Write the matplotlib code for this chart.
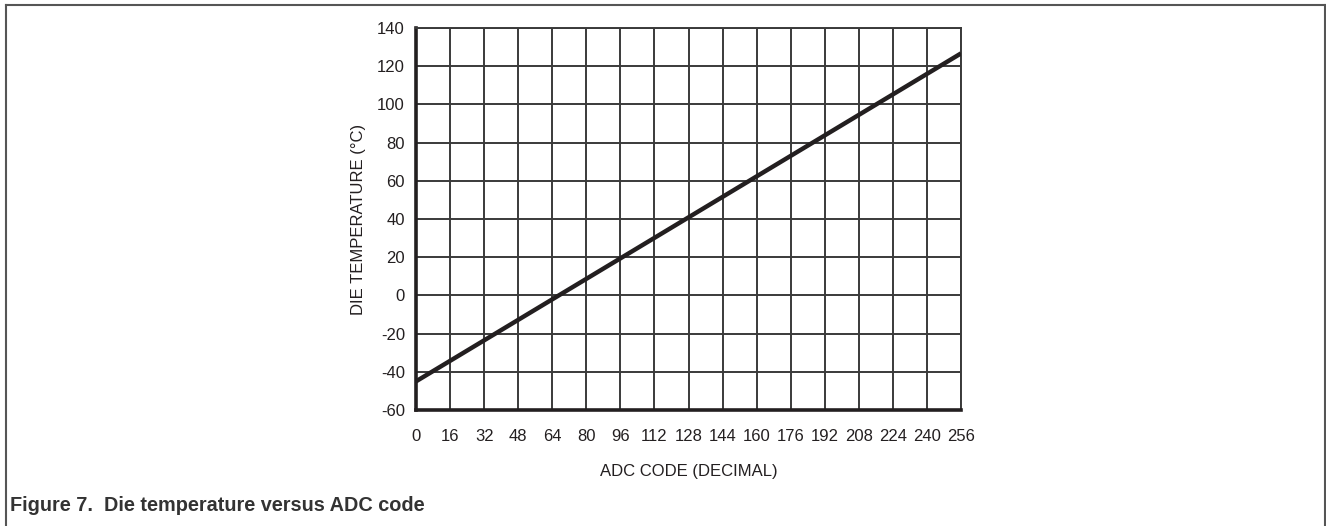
import matplotlib
matplotlib.use("Agg")
import matplotlib.pyplot as plt
from matplotlib.lines import Line2D

adc_code = [0, 256]
die_temp = [-45, 126.7]
x_ticks = list(range(0, 257, 16))
y_ticks = list(range(-60, 141, 20))

plt.rcParams['font.family'] = ['Liberation Sans', 'DejaVu Sans']

W, H = 1326, 526
fig = plt.figure(figsize=(W / 100, H / 100), dpi=100)
ax = fig.add_axes([416 / W, 1 - 410 / H, (961 - 416) / W, (410 - 28) / H])

ax.plot(adc_code, die_temp, color='#231f20', lw=3.2, solid_capstyle='butt', zorder=3)
ax.set_xlim(0, 256)
ax.set_ylim(-60, 140)
ax.set_xticks(x_ticks)
ax.set_yticks(y_ticks)
ax.set_xticklabels([str(v) for v in x_ticks])
ax.set_yticklabels([str(v) for v in y_ticks])
ax.grid(True, color='#3a3a3a', lw=1.4)
ax.set_axisbelow(True)
ax.tick_params(axis='both', length=0, labelsize=12, colors='#231f20')
ax.tick_params(axis='x', pad=14)
ax.tick_params(axis='y', pad=8)
for s in ['top', 'right']:
    ax.spines[s].set_color('#3a3a3a')
    ax.spines[s].set_linewidth(1.4)
for s in ['left', 'bottom']:
    ax.spines[s].set_color('#231f20')
    ax.spines[s].set_linewidth(2.6)

ax.set_xlabel('ADC CODE (DECIMAL)', fontsize=12, color='#231f20', labelpad=14)
ax.set_ylabel('DIE TEMPERATURE (°C)', fontsize=12, color='#231f20', labelpad=8)

# figure border (top, left, right)
bc = '#555555'
fig.add_artist(Line2D([5.5 / W, 5.5 / W], [0, 1 - 5 / H], transform=fig.transFigure, color=bc, lw=1.5))
fig.add_artist(Line2D([5.5 / W, 1324.5 / W], [1 - 5 / H, 1 - 5 / H], transform=fig.transFigure, color=bc, lw=1.5))
fig.add_artist(Line2D([1324.5 / W, 1324.5 / W], [0, 1 - 5 / H], transform=fig.transFigure, color=bc, lw=1.5))

fig.text(10 / W, 1 - 511 / H, 'Figure 7.  Die temperature versus ADC code', fontsize=14.3,
         fontweight='bold', color='#333333', ha='left', va='baseline')

fig.savefig('out.png', dpi=100)
